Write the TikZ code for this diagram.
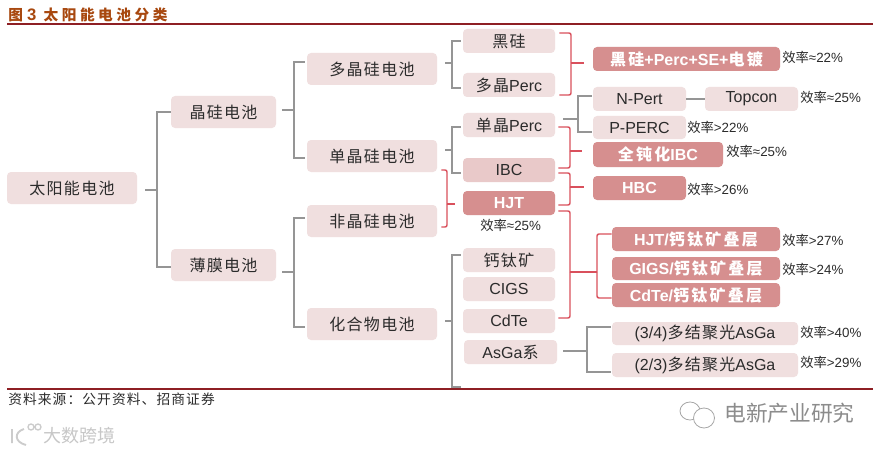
\documentclass[tikz,border=0pt]{standalone}
\usepackage{fontspec}
\setmainfont{Liberation Sans}
\newfontfamily\cjk[LetterSpace=8]{Noto Sans CJK SC}
\newfontfamily\cjkd[LetterSpace=14]{Noto Sans CJK SC}
\newfontfamily\cjkt[LetterSpace=24]{Noto Sans CJK SC Bold}
\newfontfamily\cjkw{Noto Sans CJK SC}
\newcommand{\cn}[1]{{\cjk #1}}
\newcommand{\cd}[1]{{\cjkd #1}}
\newcommand{\ct}[1]{{\cjkt #1}}
\definecolor{pale}{HTML}{F0DFDF}
\definecolor{mid}{HTML}{E9C9C9}
\definecolor{deep}{HTML}{D68F8F}
\definecolor{wire}{HTML}{959595}
\definecolor{rlink}{HTML}{D9505C}
\definecolor{rule}{HTML}{8E1F24}
\definecolor{ttl}{HTML}{A8480F}
\definecolor{ink}{HTML}{2B2B2B}
\tikzset{
 x=0.75pt,y=-0.75pt,
 bx/.style={rounded corners=3pt,inner sep=0pt,text=ink,font=\fontsize{12}{14}\selectfont,align=center},
 palebox/.style={bx,fill=pale},
 midbox/.style={bx,fill=mid},
 deepbox/.style={bx,fill=deep,text=white,font=\fontsize{12}{14}\selectfont\bfseries},
 eff/.style={inner sep=0pt,text=ink,font=\fontsize{10}{12}\selectfont,anchor=west},
 gw/.style={draw=wire,line width=1.4pt},
 rd/.style={draw=rlink,line width=1.1pt,rounded corners=1.5pt},
 rl/.style={draw=rule,line width=1.5pt},
}
% \bb{name}{style}{x1}{y1}{x2}{y2}{text}
\newcommand{\bb}[7]{\node[#2,minimum width={(#5-#3)*0.75pt},minimum height={(#6-#4)*0.75pt}] (#1) at ({(#3+#5)/2},{(#4+#6)/2}) {#7};}
% \treelink{style}{stub start}{junction}{branch end 1}{branch end 2}
\newcommand{\treelink}[5]{\draw[#1] (#2) -- (#3); \draw[#1] (#4) -| (#3); \draw[#1] (#5) -| (#3);}
\newcommand{\ef}[4]{\node[eff] (#1) at (#2,#3) {{\cjkw 效率}#4};}
\begin{document}
\begin{tikzpicture}
\useasboundingbox (0,0) rectangle (882,453);
\fill[white] (0,0) rectangle (882,453);
% rules and captions
\coordinate (tl) at (7,24.5); \coordinate (tr) at (873,24.5);
\coordinate (bl) at (7,389); \coordinate (br) at (873,389);
\draw[rl] (tl) -- (tr);
\draw[rl] (bl) -- (br);
\node[anchor=west,inner sep=0pt,text=ttl,font=\fontsize{11}{13}\selectfont\bfseries] (title) at (8,14.5) {\ct{图} \fontsize{12.5}{13}\selectfont 3\, \fontsize{11}{13}\selectfont\ct{太阳能电池分类}};
\node[anchor=west,inner sep=0pt,text=ink,font=\fontsize{10.3}{12}\selectfont] (src) at (8,399) {\cn{资料来源：公开资料、招商证券}};
% level boxes
\bb{root}{palebox}{7}{172}{137}{204}{\cn{太阳能电池}}
\bb{jg}{palebox}{171}{96}{276}{128}{\cn{晶硅电池}}
\bb{bm}{palebox}{171}{249}{276}{281}{\cn{薄膜电池}}
\bb{djg}{palebox}{307}{53}{437}{85}{\cn{多晶硅电池}}
\bb{sjg}{palebox}{307}{140}{437}{172}{\cn{单晶硅电池}}
\bb{fjg}{palebox}{307}{205}{437}{237}{\cn{非晶硅电池}}
\bb{hhw}{palebox}{307}{308}{437}{340}{\cn{化合物电池}}
\bb{hg}{palebox}{463}{29}{555}{53}{\cn{黑硅}}
\bb{dp}{palebox}{463}{73}{555}{97}{\cn{多晶}Perc}
\bb{sp}{palebox}{463}{113}{555}{137}{\cn{单晶}Perc}
\bb{ibc}{midbox}{463}{158}{555}{182}{IBC}
\bb{hjt}{deepbox}{463}{191}{555}{215}{HJT}
\bb{gtk}{palebox}{463}{248}{555}{272}{\cn{钙钛矿}}
\bb{cigs}{palebox}{463}{277}{555}{301}{CIGS}
\bb{cdte}{palebox}{463}{309}{555}{333}{CdTe}
\bb{asga}{palebox}{464}{340}{557}{364}{AsGa\cn{系}}
\bb{hps}{deepbox}{593}{47}{780}{71}{\cd{黑硅}+Perc+SE+\cd{电镀}}
\bb{np}{palebox}{593}{87}{686}{111}{N-Pert}
\bb{top}{palebox}{705}{87}{798}{111}{Topcon}
\bb{pp}{palebox}{593}{116}{686}{139}{P-PERC}
\bb{qibc}{deepbox}{593}{142}{723}{167}{\cd{全钝化}IBC}
\bb{hbc}{deepbox}{593}{176}{686}{200}{HBC}
\bb{sa}{deepbox}{612}{227}{780}{251}{HJT/\cd{钙钛矿叠层}}
\bb{sb}{deepbox}{612}{257}{780}{280}{GIGS/\cd{钙钛矿叠层}}
\bb{sc}{deepbox}{612}{283}{780}{307}{CdTe/\cd{钙钛矿叠层}}
\bb{ma}{palebox}{612}{322}{798}{345}{(3/4)\cn{多结聚光}AsGa}
\bb{mb}{palebox}{612}{353}{798}{377}{(2/3)\cn{多结聚光}AsGa}
% efficiency labels
\ef{e1}{782}{57}{≈22\%}
\ef{e2}{800}{97}{≈25\%}
\ef{e3}{687}{127}{>22\%}
\ef{e4}{726}{151}{≈25\%}
\ef{e5}{687}{189}{>26\%}
\ef{e6}{480}{225}{≈25\%}
\ef{e7}{782}{240}{>27\%}
\ef{e8}{782}{269}{>24\%}
\ef{e9}{800}{332}{>40\%}
\ef{e10}{800}{362}{>29\%}
% junctions
\coordinate (j1) at (157,190);
\coordinate (j2) at (294,110);
\coordinate (j3) at (294,272);
\coordinate (j4) at (452,63);
\coordinate (j5) at (452,150);
\coordinate (j6) at (452,321);
\coordinate (j7) at (578,119);
\coordinate (j8) at (587,351);
\coordinate (hend) at (461,387);
% grey connectors
\treelink{gw}{[shift={(8,2)}]root.east}{j1}{jg.west}{[shift={(0,2)}]bm.west}
\treelink{gw}{[shift={(6,-2)}]jg.east}{j2}{[shift={(-2,-7)}]djg.west}{[shift={(-2,2)}]sjg.west}
\treelink{gw}{[shift={(6,7)}]bm.east}{j3}{[shift={(-2,-3)}]fjg.west}{[shift={(-2,3)}]hhw.west}
\treelink{gw}{[shift={(8,-6)}]djg.east}{j4}{[shift={(-2,0)}]hg.west}{[shift={(-2,3)}]dp.west}
\treelink{gw}{[shift={(8,-6)}]sjg.east}{j5}{[shift={(-2,2)}]sp.west}{[shift={(-2,3)}]ibc.west}
\treelink{gw}{[shift={(8,-3)}]hhw.east}{j6}{[shift={(-2,-5)}]gtk.west}{hend}
\treelink{gw}{[shift={(8,-6)}]sp.east}{j7}{[shift={(-1,-3)}]np.west}{[shift={(-1,4.5)}]pp.west}
\treelink{gw}{[shift={(6,-1)}]asga.east}{j8}{[shift={(-1,-6.5)}]ma.west}{[shift={(-1,7)}]mb.west}
\draw[gw] (np) -- (top);
% red brackets
\coordinate (r1) at (571,63);
\coordinate (r2) at (570,151);
\coordinate (r3) at (570,187);
\coordinate (r4) at (570,272);
\coordinate (r5) at (597,272);
\coordinate (r6) at (447,204);
\treelink{rd}{[shift={(-9,4)}]hps.west}{r1}{[shift={(4,-8)}]hg.east}{[shift={(4,10)}]dp.east}
\treelink{rd}{[shift={(-11,-3.5)}]qibc.west}{r2}{[shift={(3,2)}]sp.east}{[shift={(3,-2)}]ibc.east}
\treelink{rd}{[shift={(-9,-1)}]hbc.west}{r3}{[shift={(3,3)}]ibc.east}{[shift={(3,2)}]hjt.east}
\treelink{rd}{r5}{r4}{[shift={(3,8)}]hjt.east}{[shift={(3,-3)}]cdte.east}
\draw[rd] ([shift={(0,-5)}]sa.west) -| (r5);
\draw[rd] ([shift={(0,3)}]sc.west) -| (r5);
\treelink{rd}{[shift={(-8,1)}]hjt.west}{r6}{[shift={(4,14)}]sjg.east}{[shift={(4,6)}]fjg.east}
% watermarks
\node[anchor=west,inner sep=0pt,text=black!22,font=\fontsize{13.5}{15}\selectfont] (wm1) at (43,436) {{\cjkw 大数跨境}};
\node[anchor=west,inner sep=0pt,text=black!45,font=\fontsize{16.3}{18}\selectfont] (wm2) at (724,413) {{\cjkw 电新产业研究}};
% logo marks
\draw[black!20,line width=1.4pt] (12,429) -- (12,443) (24,429) .. controls (14,432) and (14,442) .. (26,445);
\draw[black!20,line width=1pt] (31,427) circle (3) (38,427) circle (3);
\draw[black!35,line width=.6pt] (690,411) ellipse (10 and 9);
\draw[black!35,line width=.6pt,fill=white] (704,418) ellipse (10.5 and 10);
\end{tikzpicture}
\end{document}
